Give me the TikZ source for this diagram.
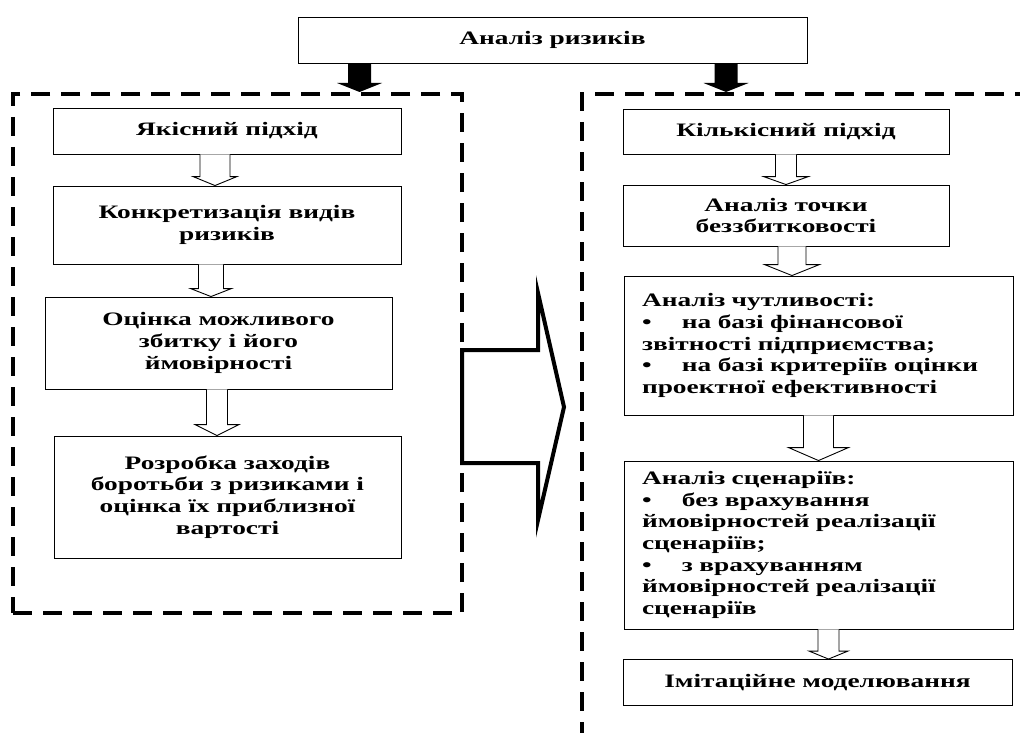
\documentclass[tikz,border=0pt]{standalone}
\usepackage{fontspec}
\setmainfont[FakeStretch=1.44]{Liberation Serif}
\usetikzlibrary{calc}
\newcommand\bul{\makebox[40pt][l]{•}}
% hollow block arrow: from, to, xshift, shaft half width, head half width, head length
\newcommand\blockarrow[6]{%
  \draw[hollowarrow] let \p1=([xshift=#3]#1.south), \p2=(#2.north) in
    (\x1-#4pt,\y1) -- (\x1-#4pt,\y2+#6pt) -- (\x1-#5pt,\y2+#6pt) -- (\x1,\y2)
    -- (\x1+#5pt,\y2+#6pt) -- (\x1+#4pt,\y2+#6pt) -- (\x1+#4pt,\y1);}
% solid block arrow: from, xshift, to
\newcommand\solidarrow[3]{%
  \fill let \p1=([xshift=#2]#1.south), \p2=(#3.north -| \p1) in
    (\x1-11.5pt,\y1) -- (\x1-11.5pt,\y2+9pt) -- (\x1-22.5pt,\y2+9pt) -- (\x1,\y2)
    -- (\x1+22.5pt,\y2+9pt) -- (\x1+11.5pt,\y2+9pt) -- (\x1+11.5pt,\y1) -- cycle;}
\begin{document}
\begin{tikzpicture}[x=1pt,y=-1pt,
  box/.style={draw, line width=0.9pt, inner sep=0pt, align=center,
    font=\bfseries\fontsize{19}{21.7}\selectfont},
  lbox/.style={box, align=left, inner xsep=18pt},
  frame/.style={draw, line width=4pt, dash pattern=on 19pt off 11pt, inner sep=0pt},
  hollowarrow/.style={draw, line width=0.9pt, fill=white},
  bigarrow/.style={draw, line width=4pt, miter limit=20}]
\useasboundingbox (0,0) rectangle (1020,733);
% frames
\node[frame, minimum width=449pt, minimum height=519pt] (lframe) at (237.5,353.5) {};
\node[frame, minimum width=518pt, minimum height=706pt] (rframe) at (841,447) {};
% top
\node[box, minimum width=509pt, minimum height=46pt] (top) at (552.5,40) {Аналіз ризиків};
% left column
\node[box, minimum width=348pt, minimum height=46pt] (l1) at (227,131) {Якісний підхід};
\node[box, minimum width=348pt, minimum height=78pt] (l2) at (227,225) {Конкретизація видів\\ризиків};
\node[box, minimum width=347pt, minimum height=92pt] (l3) at (218.5,343) {Оцінка можливого\\збитку і його\\ймовірності};
\node[box, minimum width=347pt, minimum height=122pt] (l4) at (227.5,497) {Розробка заходів\\боротьби з ризиками і\\оцінка їх приблизної\\вартості};
% right column
\node[box, minimum width=326pt, minimum height=45pt] (r1) at (786,131.5) {Кількісний підхід};
\node[box, minimum width=326pt, minimum height=61pt] (r2) at (786,215.5) {Аналіз точки\\беззбитковості};
\node[lbox, text width=353pt, minimum height=139pt] (r3) at (818.5,345.5) {\mbox{Аналіз чутливості:}\\
\mbox{\bul на базі фінансової}\\
\mbox{звітності підприємства;}\\
\mbox{\bul на базі критеріїв оцінки}\\
\mbox{проектної ефективності}};
\node[lbox, text width=353pt, minimum height=168pt] (r4) at (818.5,545) {\mbox{Аналіз сценаріїв:}\\
\mbox{\bul без врахування}\\
\mbox{ймовірностей реалізації}\\
\mbox{сценаріїв;}\\
\mbox{\bul з врахуванням}\\
\mbox{ймовірностей реалізації}\\
\mbox{сценаріїв}};
\node[box, minimum width=389pt, minimum height=46pt] (r5) at (817.5,682.5) {Імітаційне моделювання};
% solid arrows from top
\solidarrow{top}{-193pt}{lframe}
\solidarrow{top}{173.5pt}{rframe}
% hollow arrows
\blockarrow{l1}{l2}{-12pt}{15}{22}{9}
\blockarrow{l2}{l3}{-16pt}{12.5}{20.5}{8}
\blockarrow{l3}{l4}{-1.5pt}{10.5}{22}{11}
\blockarrow{r1}{r2}{0pt}{10.5}{22.5}{8}
\blockarrow{r2}{r3}{6pt}{14}{27.5}{11}
\blockarrow{r3}{r4}{0pt}{15}{30}{13}
\blockarrow{r4}{r5}{10pt}{10.5}{19.5}{8}
% big arrow between the two approaches
\draw[bigarrow] (462,350) -- (538,350) -- (538,293) -- (564,407) -- (538,520) -- (538,463) -- (462,463) -- cycle;
\end{tikzpicture}
\end{document}
